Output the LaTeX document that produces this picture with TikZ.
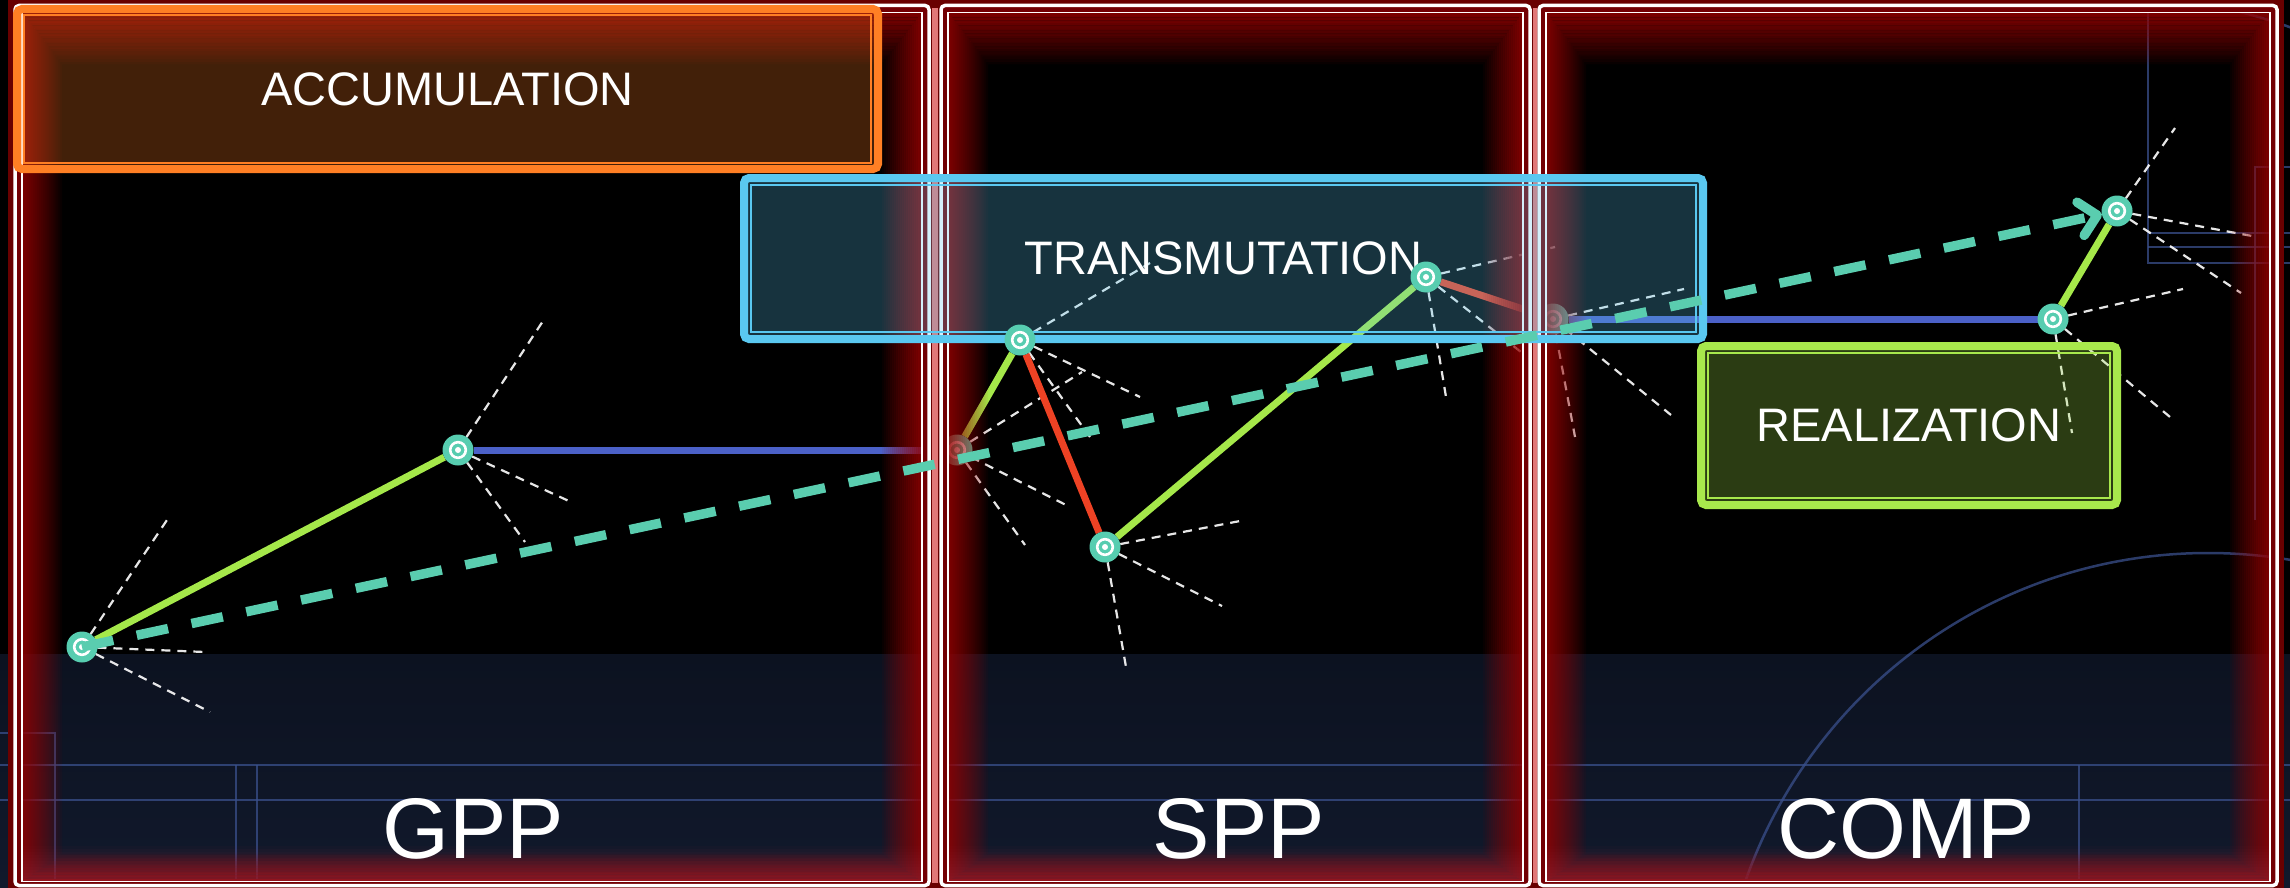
\documentclass[tikz,border=0pt]{standalone}
\usepackage{fontspec}
\setmainfont{Liberation Sans}
\usetikzlibrary{arrows.meta}
\pgfdeclarelayer{bg}
\pgfdeclarelayer{mid}
\pgfdeclarelayer{glow}
\pgfdeclarelayer{boxes}
\pgfdeclarelayer{top}
\pgfsetlayers{bg,main,mid,glow,boxes,top}
\definecolor{tealN}{RGB}{87,205,176}
\definecolor{tealD}{RGB}{90,205,175}
\definecolor{greenE}{RGB}{165,232,74}
\definecolor{blueE}{RGB}{75,97,200}
\definecolor{redE}{RGB}{238,66,36}
\definecolor{glowred}{RGB}{150,0,0}
\definecolor{stripred}{RGB}{115,0,4}
\definecolor{outerglow}{RGB}{105,0,0}
\definecolor{pinkgap}{RGB}{255,150,150}
\definecolor{crimson}{RGB}{150,40,60}
\definecolor{navyA}{RGB}{12,18,32}
\definecolor{navyB}{RGB}{17,25,44}
\definecolor{faint}{RGB}{58,80,140}
\definecolor{orangeC}{RGB}{255,127,36}
\definecolor{cyanC}{RGB}{90,200,240}
\definecolor{greenC}{RGB}{168,232,76}
\newcommand{\glowpanel}[4]{%
  \draw[line width=14pt, color=outerglow] (#1,#2) rectangle (#3,#4);
  \fill[stripred, even odd rule] (#1,#2) rectangle (#3,#4) ({#1+7},{#2+7}) rectangle ({#3-7},{#4-4});
  \foreach \k in {0,...,19}{
    \pgfmathsetmacro{\op}{0.82*(1-\k/20)^0.9}
    \fill[glowred, fill opacity=\op, even odd rule]
      ({#1+7+\k*2.0},{#2+7+\k*2.6}) rectangle ({#3-7-\k*2.0},{#4-4-\k*1.4})
      ({#1+7+(\k+1)*2.0},{#2+7+(\k+1)*2.6}) rectangle ({#3-7-(\k+1)*2.0},{#4-4-(\k+1)*1.4});
  }
  \foreach \k in {0,...,11}{
    \pgfmathsetmacro{\op}{0.5*(1-\k/12)}
    \fill[crimson, fill opacity=\op] ({#1+7},{#4-4-\k*3}) rectangle ({#3-7},{#4-4-(\k+1)*3});
  }
  \draw[white, line width=3.5pt, rounded corners=4pt] (#1,#2) rectangle (#3,#4);
  \draw[white, line width=1.5pt] ({#1+7},{#2+7}) rectangle ({#3-7},{#4-4});
}
\begin{document}
\begin{tikzpicture}[x=1pt,y=-1pt,
  pnode/.style={circle, fill=tealN, minimum size=31pt, inner sep=0pt, outer sep=0pt,
    path picture={\draw[white, line width=2.6pt] (path picture bounding box.center) circle (7.8pt);
                  \fill[white] (path picture bounding box.center) circle (3pt);}},
  gedge/.style={draw=greenE, line width=7pt},
  bedge/.style={draw=blueE, line width=7pt},
  redge/.style={draw=redE, line width=7pt},
  spoke/.style={draw=white, draw opacity=0.9, line width=2.2pt, dash pattern=on 9pt off 7pt},
  flow/.style={draw=tealD, line width=9.5pt, dash pattern=on 32pt off 24pt,
    -{Straight Barb[length=17pt,width=34pt,round]}},
  faintline/.style={draw=faint, draw opacity=0.75, line width=2.5pt},
  stagebox/.style={line width=8pt, rounded corners=5pt, inner sep=0pt, outer sep=0pt,
    fill opacity=0.26, text opacity=1, text=white, font=\fontsize{47pt}{50pt}\selectfont},
  lbl/.style={text=white, inner sep=0pt, font=\fontsize{86pt}{90pt}\selectfont}
]
\useasboundingbox (0,0) rectangle (2290,888);

% ---------- background ----------
\begin{pgfonlayer}{bg}
\fill[black] (0,0) rectangle (2290,888);
\shade[top color=navyA, bottom color=navyB] (0,654) rectangle (2290,888);
\draw[faintline] (0,733) -- (55,733) -- (55,890);
\draw[faintline] (0,765) -- (2290,765);
\draw[faintline] (0,800) -- (2290,800);
\draw[faintline] (236,765) -- (236,890);
\draw[faintline] (257,765) -- (257,890);
\draw[faintline] (2079,765) -- (2079,890);
\draw[faintline] (2148,-2) -- (2148,263) -- (2292,263);
\draw[faintline] (2148,233) -- (2292,233);
\draw[faintline] (2148,247) -- (2292,247);
\draw[faintline] (2255,520) -- (2255,167) -- (2292,167);
\draw[faintline] (2175,-2) .. controls (2220,6) and (2260,16) .. (2292,28);
\draw[faintline] (2208,1043) circle (490pt);
\end{pgfonlayer}

% ---------- nodes ----------
\begin{pgfonlayer}{top}
\node[pnode] (n1) at (82,647) {};
\node[pnode] (n2) at (458,450) {};
\node[pnode] (n4) at (1020,340) {};
\node[pnode] (n5) at (1105,547) {};
\node[pnode] (n6) at (1426,277) {};
\node[pnode] (n8) at (2053,319) {};
\node[pnode] (n9) at (2117,211) {};
\end{pgfonlayer}
\begin{pgfonlayer}{mid}
\node[pnode] (n3) at (957,450) {};
\node[pnode] (n7) at (1553,319) {};
\end{pgfonlayer}

% ---------- spoke end points ----------
\foreach \n/\x/\y in {s1a/167/520, s1b/205/652, s1c/210/712,
  s2a/545/318, s2b/571/502, s2c/525/542,
  s3a/1082/372, s3b/1066/505, s3c/1025/545,
  s4a/1150/263, s4b/1140/397, s4c/1090/437,
  s5a/1240/521, s5b/1222/606, s5c/1126/667,
  s6a/1555/247, s6b/1446/397, s6c/1540/367,
  s7a/1684/289, s7b/1671/415, s7c/1575/437,
  s8a/2183/289, s8b/2170/417, s8c/2072/433,
  s9a/2175/128, s9b/2252/236, s9c/2241/293}
  {\coordinate (\n) at (\x,\y);}

% ---------- spokes ----------
\foreach \a/\b in {n1/s1a,n1/s1b,n1/s1c,n2/s2a,n2/s2b,n2/s2c,n3/s3a,n3/s3b,n3/s3c,
  n4/s4a,n4/s4b,n4/s4c,n5/s5a,n5/s5b,n5/s5c,n6/s6a,n6/s6b,n6/s6c,
  n7/s7a,n7/s7b,n7/s7c,n8/s8a,n8/s8b,n8/s8c,n9/s9a,n9/s9b,n9/s9c}
  {\draw[spoke] (\a) -- (\b);}

% ---------- edges ----------
\draw[gedge] (n1) -- (n2);
\draw[bedge] (n2) -- (n3);
\draw[gedge] (n3) -- (n4);
\draw[redge] (n4) -- (n5);
\draw[gedge] (n5) -- (n6);
\draw[redge] (n6) -- (n7);
\draw[bedge] (n7) -- (n8);
\draw[gedge] (n8) -- (n9);

% ---------- panels ----------
\begin{pgfonlayer}{glow}
\glowpanel{15}{5.5}{929}{885.5}
\glowpanel{941}{5.5}{1530}{885.5}
\glowpanel{1539}{5.5}{2277}{885.5}
\fill[pinkgap, fill opacity=0.8] (931.5,8) rectangle (938,883);
\fill[pinkgap, fill opacity=0.8] (1532.5,8) rectangle (1536.5,883);
\end{pgfonlayer}

% ---------- stage boxes and labels ----------
\begin{pgfonlayer}{boxes}
\node[stagebox, draw=orangeC, fill=orangeC, minimum width=861pt, minimum height=160pt] (acc) at (447.5,89) {ACCUMULATION};
\draw[orangeC, line width=1.5pt] ([shift={(7pt,-6pt)}]acc.north west) rectangle ([shift={(-7pt,6pt)}]acc.south east);
\node[stagebox, draw=cyanC, fill=cyanC, minimum width=959pt, minimum height=161pt] (trans) at (1223.5,258.5) {TRANSMUTATION};
\draw[cyanC, line width=1.5pt] ([shift={(7pt,-7pt)}]trans.north west) rectangle ([shift={(-7pt,7pt)}]trans.south east);
\node[stagebox, draw=greenC, fill=greenC, minimum width=416pt, minimum height=159pt] (real) at (1909,425.5) {REALIZATION};
\draw[greenC, line width=1.5pt] ([shift={(7pt,-7pt)}]real.north west) rectangle ([shift={(-7pt,7pt)}]real.south east);
\node[lbl] (gpp) at (473,829) {GPP};
\node[lbl] (spp) at (1239,829) {SPP};
\node[lbl] (comp) at (1906,829) {COMP};
\end{pgfonlayer}

% ---------- overall flow ----------
\begin{pgfonlayer}{top}
\draw[flow] (n1.center) -- (n9);
\end{pgfonlayer}
\end{tikzpicture}
\end{document}
